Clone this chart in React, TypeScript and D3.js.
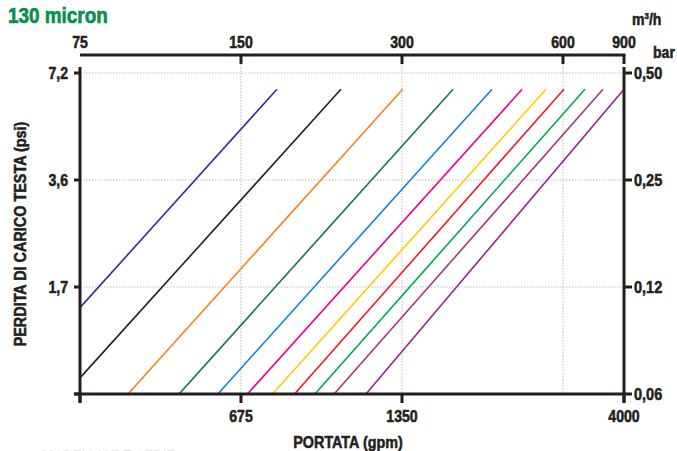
import React from "react";
import * as d3 from "d3";

// ---- data ----
const seriesColors = ["#2e3192", "#231f20", "#f7821e", "#11754a", "#0a86cf", "#ec008c", "#ffcc00", "#ed1c24", "#00a651", "#a6367a", "#92278f"];
const flowStart = [337.5, 337.5, 415, 517, 611, 694, 773, 850, 928, 1008, 1156]; // gpm
const pressStart = [0.105, 0.0666, 0.06, 0.06, 0.06, 0.06, 0.06, 0.06, 0.06, 0.06, 0.06]; // bar
const flowEnd = [788, 1038, 1354, 1682, 1989, 2264, 2510, 2717, 3111, 3494, 4000]; // gpm
const pressEnd = [0.45, 0.45, 0.45, 0.45, 0.45, 0.45, 0.45, 0.45, 0.45, 0.45, 0.45]; // bar

const gpmTicks = [337.5, 675, 1350, 4000];
const gpmLabels = ["", "675", "1350", "4000"];
const m3hTicks = [75, 150, 300, 600, 900];
const barTicks = [0.06, 0.12, 0.25, 0.5];
const barLabels = ["0,06", "0,12", "0,25", "0,50"];
const psiTicks = [0.87, 1.7, 3.6, 7.2];
const psiLabels = ["", "1,7", "3,6", "7,2"];
const gridX = [675, 1350, 2700];

// ---- layout ----
const W = 677, H = 451;
const L = 80, R = 624, T = 73, B = 394, TOPAX = 55;
const step = 161;
const FONT = "'Liberation Sans', Arial, sans-serif";
const INK = "#231f20";
const SX = 0.88;

function Txt(props: { x: number; y: number; size: number; anchor?: string; fill?: string; rotate?: number; sx?: number; sw?: number; children: React.ReactNode }) {
  const { x, y, size, anchor = "start", fill = INK, rotate = 0, sx = SX, sw = 0.55, children } = props;
  return (
    <text
      transform={`translate(${x},${y}) rotate(${rotate}) scale(${sx},1)`}
      fontSize={size}
      textAnchor={anchor}
      fill={fill}
      stroke={fill}
      strokeWidth={sw}
    >
      {children}
    </text>
  );
}

export default function App() {
  const x = d3.scaleLog().domain([337.5, 675, 1350, 2700, 4000]).range([L, L + step, L + 2 * step, L + 3 * step, R]);
  const xTop = d3.scaleLog().domain([75, 150, 300, 600, 900]).range([L, L + step, L + 2 * step, L + 3 * step, R]);
  const yBar = d3.scaleLog().domain(barTicks).range([B, B - 107, B - 214, T]);
  const yPsi = d3.scaleLog().domain(psiTicks).range([B, B - 107, B - 214, T]);
  const line = d3.line<[number, number]>().x(d => x(d[0])).y(d => yBar(d[1]));

  return (
    <svg width={W} height={H} style={{ position: "absolute", left: 0, top: 0, background: "#fff" }} fontFamily={FONT} fontWeight="bold">
      <Txt x={8} y={23} size={22} fill="#0a8f4f" sx={0.86} sw={0.7}>130 micron</Txt>

      {/* grid */}
      {barTicks.slice(1).map((t, i) => (
        <line key={"gh" + i} x1={L} x2={R} y1={yBar(t)} y2={yBar(t)} stroke="#bdbdbd" strokeWidth={1} strokeDasharray="1.5,1.5" />
      ))}
      {gridX.map((t, i) => (
        <line key={"gv" + i} x1={x(t)} x2={x(t)} y1={TOPAX} y2={B} stroke="#bdbdbd" strokeWidth={1} strokeDasharray="1.5,1.5" />
      ))}

      {/* series */}
      {seriesColors.map((c, i) => (
        <path key={"s" + i} d={line([[flowStart[i], pressStart[i]], [flowEnd[i], pressEnd[i]]]) || ""} stroke={c} strokeWidth={1.6} fill="none" />
      ))}

      {/* top axis */}
      <line x1={L} x2={R + 1.5} y1={TOPAX} y2={TOPAX} stroke={INK} strokeWidth={3} />
      {m3hTicks.map((t, i) => (
        <g key={"tt" + i}>
          {i > 0 && <line x1={xTop(t)} x2={xTop(t)} y1={TOPAX} y2={TOPAX + 9} stroke={INK} strokeWidth={3} />}
          <Txt x={xTop(t)} y={48} size={16} anchor="middle">{t}</Txt>
        </g>
      ))}
      <Txt x={632} y={25} size={16}>m<tspan fontSize={9} dy={-6}>3</tspan><tspan dy={6}>/h</tspan></Txt>
      <Txt x={653} y={58} size={16}>bar</Txt>

      {/* left axis */}
      <line x1={L} x2={L} y1={67} y2={B + 9} stroke={INK} strokeWidth={3} />
      {psiTicks.map((t, i) => (
        <g key={"lt" + i}>
          <line x1={L - 6} x2={L} y1={yPsi(t)} y2={yPsi(t)} stroke={INK} strokeWidth={3} />
          <Txt x={68} y={yPsi(t) + 5.5} size={16} anchor="end">{psiLabels[i]}</Txt>
        </g>
      ))}
      <Txt x={26} y={234} size={16} anchor="middle" rotate={-90} sx={0.9}>PERDITA DI CARICO TESTA (psi)</Txt>

      {/* right axis */}
      <line x1={R} x2={R} y1={67} y2={B + 9} stroke={INK} strokeWidth={3} />
      {barTicks.map((t, i) => (
        <g key={"rt" + i}>
          <line x1={R} x2={R + 8} y1={yBar(t)} y2={yBar(t)} stroke={INK} strokeWidth={3} />
          <Txt x={634} y={yBar(t) + 6} size={16.5}>{barLabels[i]}</Txt>
        </g>
      ))}

      {/* bottom axis */}
      <line x1={L - 6} x2={R} y1={B} y2={B} stroke={INK} strokeWidth={3} />
      {gpmTicks.map((t, i) => (
        <g key={"bt" + i}>
          <line x1={x(t)} x2={x(t)} y1={B} y2={B + 9} stroke={INK} strokeWidth={3} />
          <Txt x={x(t)} y={422} size={16} anchor="middle">{gpmLabels[i]}</Txt>
        </g>
      ))}
      <Txt x={348} y={448} size={16.5} anchor="middle" sx={0.87}>PORTATA (gpm)</Txt>
      <Txt x={42} y={460.5} size={15} fill="#9a9a9a" sw={0.3}>MODELLI XDE SERIE</Txt>
    </svg>
  );
}
